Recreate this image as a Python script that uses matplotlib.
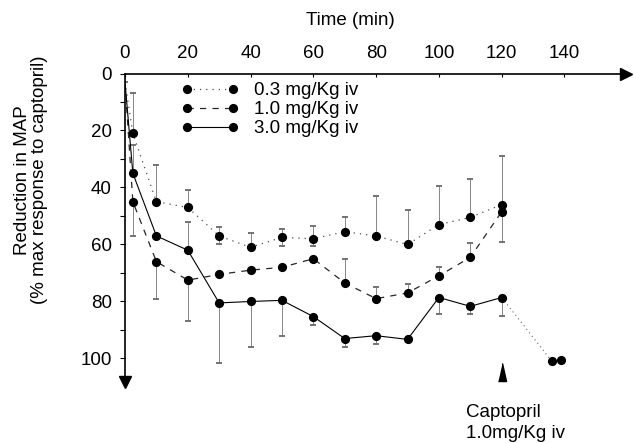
import matplotlib.pyplot as plt
import numpy as np
from matplotlib.lines import Line2D

plt.rcParams['font.family'] = ['Liberation Sans', 'DejaVu Sans']
plt.rcParams['font.size'] = 13.5

# time after dosing (min)
time = [0, 2.5, 10, 20, 30, 40, 50, 60, 70, 80, 90, 100, 110, 120]

# reduction in MAP (% of max response to captopril)
map_03 = [3, 21, 45, 47, 57, 61, 57.5, 58, 55.5, 57, 60, 53, 50.5, 46]
map_10 = [3, 45, 66, 72.5, 70.5, 69, 68, 65, 73.5, 79, 77, 71, 64.5, 48.5]
map_30 = [3, 35, 57, 62, 80.5, 80, 79.6, 85.3, 93, 92, 93.3, 78.6, 81.7, 78.6]

# SEM, one-sided as printed (up = toward 0, down = toward 100)
sem_03_up = [0, 14, 13, 6, 3, 5, 3, 4.5, 5, 14, 12, 13.5, 13.5, 17]
sem_03_dn = [0, 0, 0, 0, 3, 0, 3, 2.5, 0, 0, 0, 0, 0, 0]
sem_10_up = [0, 0, 0, 0, 0, 0, 0, 0, 8.5, 4, 3, 3, 5, 0]
sem_10_dn = [0, 12, 13, 14.5, 0, 0, 0, 0, 0, 0, 0, 0, 0, 10.5]
sem_30_up = [0, 10, 0, 10, 0, 0, 0, 0, 0, 0, 0, 0, 0, 0]
sem_30_dn = [0, 0, 0, 0, 21, 16, 12.4, 3, 3, 3, 0, 5.8, 2.7, 6.5]

# after the captopril challenge
post_time = [136, 139]
post_map = [101, 100.5]
captopril_time = 120

labels = ['0.3 mg/Kg iv', '1.0 mg/Kg iv', '3.0 mg/Kg iv']

fig = plt.figure(figsize=(6.34, 4.43), dpi=100)
ax = fig.add_axes([125/634, 1 - 382/443, 501/634, (382 - 73.5)/443])

styles = [dict(color='0.3', ls=(0, (1, 4)), lw=0.9),
          dict(color='0.15', ls=(0, (5, 5)), lw=0.9),
          dict(color='k', ls='-', lw=0.8)]
series = [(map_03, sem_03_up, sem_03_dn),
          (map_10, sem_10_up, sem_10_dn),
          (map_30, sem_30_up, sem_30_dn)]

for (vals, up, dn), st in zip(series, styles):
    eb = ax.errorbar(time, vals, yerr=[up, dn], fmt='none', ecolor='0.45', elinewidth=0.6,
                     capsize=2.2, capthick=1.4, zorder=2)
    for cap in eb[1]:
        cap.set_color('k')
    ax.plot(time, vals, marker='o', ms=5.6, mfc='k', mec='k', markevery=slice(1, None),
            zorder=3, **st)

# 3.0 mg line runs on to the first post-captopril point
ax.plot([time[-1], post_time[0]], [map_30[-1], post_map[0]], color='0.4',
        ls=(0, (1, 3)), lw=0.8, zorder=2)
ax.plot(post_time, post_map, 'o', ms=5.6, color='k', zorder=3)

ax.set_xlim(0, 159.6)
ax.set_ylim(108.25, 0)

for s in ['right', 'bottom']:
    ax.spines[s].set_visible(False)
for s in ['top', 'left']:
    ax.spines[s].set_linewidth(1.2)

ax.xaxis.tick_top()
ax.set_xticks(np.arange(0, 141, 20))
ax.set_yticks(np.arange(0, 101, 20))
ax.set_yticks(np.arange(10, 101, 20), minor=True)
ax.tick_params(axis='x', direction='in', length=2, width=0.8, pad=8)
ax.tick_params(axis='y', which='both', direction='out', length=3.5, width=0.8, pad=6)

# axis arrows
ax.plot(1, 1, '>', color='k', ms=9, transform=ax.transAxes, clip_on=False)
ax.plot(0, 0, 'v', color='k', ms=9, transform=ax.transAxes, clip_on=False)

ax.text(0.449, 1.173, 'Time (min)', transform=ax.transAxes, ha='center', va='center')
fig.text(31/634, 1 - 180/443, 'Reduction in MAP\n(% max response to captopril)',
         rotation=90, ha='center', va='center', multialignment='center', linespacing=1.0)

handles = [Line2D([], [], marker='o', ms=5.6, mfc='k', mec='k', **st) for st in styles]
ax.legend(handles, labels, loc='upper left', bbox_to_anchor=(181/634, 1 - 82/443),
          bbox_transform=fig.transFigure, frameon=False, numpoints=2,
          handlelength=3.05, handletextpad=0.87, labelspacing=0.1,
          borderpad=0, borderaxespad=0)

# captopril challenge marker
ax.plot(captopril_time, 104.9, marker=[(-4, -9), (4, -9), (0, 9)], ms=13,
        color='k', ls='none', clip_on=False)
ax.text(captopril_time - 11.5, 115.8, 'Captopril\n1.0mg/Kg iv', ha='left', va='top',
        linespacing=1.35, clip_on=False)

fig.savefig('out.png', dpi=100)
